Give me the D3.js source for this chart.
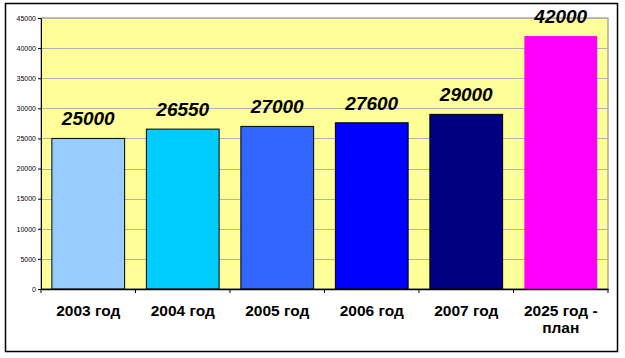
<!DOCTYPE html>
<html>
<head>
<meta charset="utf-8">
<script src="https://cdn.jsdelivr.net/npm/d3@7/dist/d3.min.js"></script>
<style>
  body { margin: 0; background: #fff; }
  svg { display: block; font-family: "Liberation Sans", Arial, sans-serif; }
</style>
</head>
<body>
<div id="chart"></div>
<script>
// chart data
let years = ['2003 год', '2004 год', '2005 год', '2006 год', '2007 год', '2025 год - план'];
let values = [25000, 26550, 27000, 27600, 29000, 42000];
let barColors = ['#99CCFF', '#00CCFF', '#3366FF', '#0000FF', '#000080', '#FF00FF'];
let yTicks = [0, 5000, 10000, 15000, 20000, 25000, 30000, 35000, 40000, 45000];

let width = 625, height = 358;
let margin = { top: 18, right: 17, bottom: 69, left: 41 };
let innerW = width - margin.left - margin.right;
let innerH = height - margin.top - margin.bottom;

let svg = d3.select('#chart')
    .append('svg')
    .attr('width', width)
    .attr('height', height);

// outer frame
svg.append('rect')
    .attr('x', 5.5).attr('y', 3.5)
    .attr('width', 612).attr('height', 348)
    .attr('fill', '#fff')
    .attr('stroke', '#000')
    .attr('stroke-width', 1.5);

let g = svg.append('g')
    .attr('transform', `translate(${margin.left}, ${margin.top})`);

let x = d3.scaleBand().domain(years).range([0, innerW]).padding(0);
let y = d3.scaleLinear().domain([0, 45000]).range([innerH, 0]);

// plot background
g.append('rect')
    .attr('width', innerW).attr('height', innerH)
    .attr('fill', '#FFFF99')
    .attr('stroke', '#808080');

// grid lines
g.selectAll('.grid')
    .data(yTicks.filter(d => d > 0))
    .enter()
    .append('line')
    .attr('x1', 0).attr('x2', innerW)
    .attr('y1', d => Math.round(y(d)) + 0.5)
    .attr('y2', d => Math.round(y(d)) + 0.5)
    .attr('stroke', '#B0B0B0');

// bars
let barW = x.bandwidth() * 0.77;
let bars = g.selectAll('.bar-group')
    .data(values)
    .enter()
    .append('g')
    .attr('class', 'bar-group');

bars.append('rect')
    .attr('x', (d, i) => x(years[i]) + (x.bandwidth() - barW) / 2)
    .attr('y', d => y(d))
    .attr('width', barW)
    .attr('height', d => innerH - y(d))
    .attr('fill', (d, i) => barColors[i])
    .attr('stroke', (d, i) => i === 5 ? 'none' : '#000')
    .attr('stroke-width', 1);

bars.append('text')
    .text(d => d)
    .attr('x', (d, i) => x(years[i]) + x.bandwidth() / 2)
    .attr('y', d => y(d) - 13)
    .attr('text-anchor', 'middle')
    .style('font-size', '19px')
    .style('font-weight', 'bold')
    .style('font-style', 'italic');

// y axis
let yAxis = g.append('g')
    .call(d3.axisLeft(y).tickValues(yTicks).tickSize(3).tickSizeOuter(0).tickFormat(d3.format('d')));
yAxis.select('.domain').attr('stroke', '#000');
yAxis.selectAll('text').style('font-size', '7px').attr('x', -5);

// x axis
let xAxis = g.append('g')
    .attr('transform', `translate(0, ${innerH})`)
    .call(d3.axisBottom(x).tickSize(0).tickSizeOuter(0).tickFormat(''));
xAxis.select('.domain').attr('stroke', '#000').attr('stroke-width', 1.5);

// category ticks at band edges
g.selectAll('.xtick')
    .data(years.concat(['end']))
    .enter()
    .append('line')
    .attr('x1', (d, i) => i < years.length ? x(d) : innerW)
    .attr('x2', (d, i) => i < years.length ? x(d) : innerW)
    .attr('y1', innerH).attr('y2', innerH + 4)
    .attr('stroke', '#000');

// category labels
let labelLines = years.map(d => d === '2025 год - план' ? ['2025 год -', 'план'] : [d]);
g.selectAll('.xlabel')
    .data(labelLines)
    .enter()
    .append('text')
    .attr('text-anchor', 'middle')
    .style('font-size', '15.5px')
    .style('font-weight', 'bold')
    .each(function (lines, i) {
        d3.select(this).selectAll('tspan')
            .data(lines)
            .enter()
            .append('tspan')
            .attr('x', x(years[i]) + x.bandwidth() / 2)
            .attr('y', (l, j) => innerH + 27 + j * 17)
            .text(l => l);
    });
</script>
</body>
</html>
